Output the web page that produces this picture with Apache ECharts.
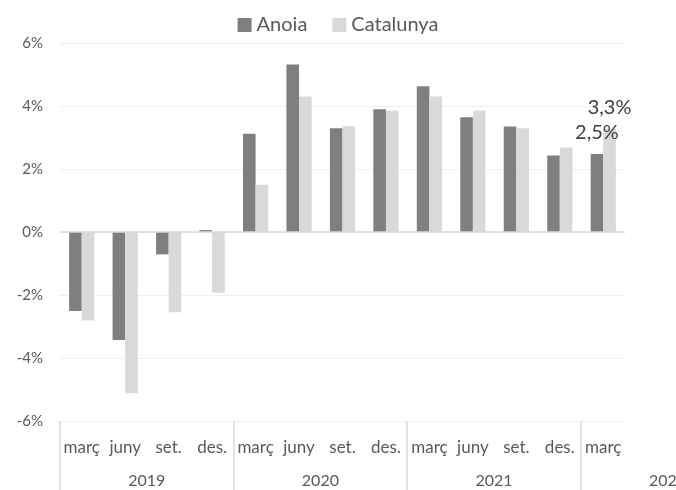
<!DOCTYPE html>
<html>
<head>
<meta charset="utf-8">
<script src="https://cdn.jsdelivr.net/npm/echarts@6/dist/echarts.min.js"></script>
<style>
  html, body { margin: 0; padding: 0; background: #fff; }
  #container { width: 676px; height: 490px; }
</style>
</head>
<body>
<div id="container"></div>
<script>
// trimestres (2019 -> març 2022)
const months = ['març', 'juny', 'set.', 'des.', 'març', 'juny', 'set.', 'des.',
  'març', 'juny', 'set.', 'des.', 'març'];
const years = ['2019', '2020', '2021', '2022'];
const anoia = [-2.51, -3.43, -0.71, 0.06, 3.12, 5.32, 3.29, 3.90, 4.63, 3.64, 3.35, 2.43, 2.48];
const catalunya = [-2.81, -5.12, -2.55, -1.93, 1.50, 4.30, 3.36, 3.85, 4.30, 3.85, 3.29, 2.68, 3.28];
const yTicks = [-6, -4, -2, 0, 2, 4, 6];

const font = 'Lato, "Open Sans", sans-serif';
const txt = '#595959';

// only the last point gets a label
function withLastLabel(arr) {
  return arr.map((v, i) => i === arr.length - 1
    ? { value: v, label: { show: true } }
    : v);
}

const barLabel = {
  show: false,
  position: 'top',
  distance: 11,
  fontFamily: font,
  fontSize: 20,
  color: '#404040',
  formatter: p => p.value.toFixed(1).replace('.', ',') + '%'
};

// one category is ~43.4px wide; the year axis runs past the right edge
const catW = 43.4;

let options = {
  animation: false,
  textStyle: { fontFamily: font },
  legend: {
    top: 10,
    left: 'center',
    icon: 'rect',
    itemWidth: 14,
    itemHeight: 14,
    itemGap: 25,
    textStyle: { fontSize: 20, color: txt, fontFamily: font }
  },
  grid: [
    { left: 60, right: 51, top: 43, bottom: 69, outerBoundsMode: 'none' },
    { left: 60, right: 0, top: 421, height: 0, outerBoundsMode: 'none' }
  ],
  xAxis: [
    {
      type: 'category',
      gridIndex: 0,
      data: months,
      axisLine: { show: false },
      axisTick: { show: false },
      axisLabel: { interval: 0, fontSize: 17, color: txt, margin: 18, fontFamily: font }
    },
    {
      type: 'value',
      gridIndex: 1,
      min: 0,
      max: 616 / catW,
      position: 'bottom',
      axisLine: { show: false },
      splitLine: { show: false },
      axisTick: {
        show: true,
        customValues: [0, 4, 8, 12],
        length: 70,
        lineStyle: { color: '#d9d9d9', width: 1.5 }
      },
      axisLabel: {
        customValues: [2, 6, 10, 14],
        formatter: v => years[Math.round((v - 2) / 4)],
        fontSize: 16,
        color: txt,
        margin: 52,
        fontFamily: font
      }
    }
  ],
  yAxis: [
    {
      type: 'value',
      gridIndex: 0,
      min: yTicks[0],
      max: yTicks[yTicks.length - 1],
      interval: 2,
      axisLine: { show: false },
      axisTick: { show: false },
      axisLabel: {
        formatter: v => v + '%',
        fontSize: 15,
        color: txt,
        margin: 17,
        fontFamily: font
      },
      splitLine: { lineStyle: { color: '#efefef', width: 1 } }
    },
    { type: 'value', gridIndex: 1, show: false }
  ],
  series: [
    {
      name: 'Anoia',
      type: 'bar',
      data: withLastLabel(anoia),
      itemStyle: { color: '#7f7f7f' },
      barGap: '0%',
      barCategoryGap: '42%',
      label: barLabel,
      markLine: {
        silent: true,
        symbol: 'none',
        label: { show: false },
        lineStyle: { color: '#d9d9d9', width: 1.5, type: 'solid' },
        data: [{ yAxis: 0 }]
      }
    },
    {
      name: 'Catalunya',
      type: 'bar',
      data: withLastLabel(catalunya),
      itemStyle: { color: '#d9d9d9' },
      barGap: '0%',
      barCategoryGap: '42%',
      label: barLabel
    }
  ]
};

let mychart = echarts.init(document.getElementById('container'));
mychart.setOption(options);
window.addEventListener('resize', () => { mychart.resize() });
</script>
</body>
</html>
